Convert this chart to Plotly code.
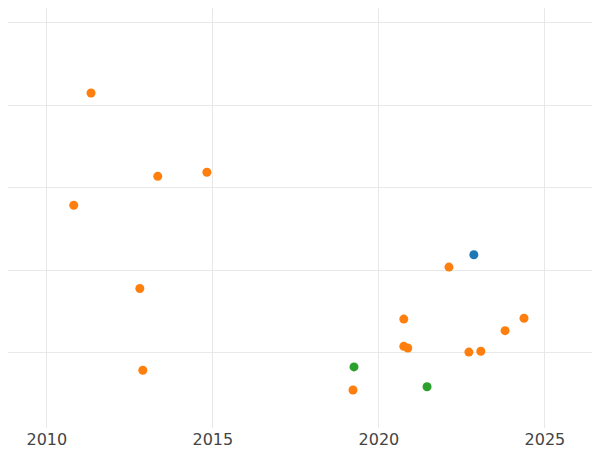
import plotly.graph_objects as go

orange_x = [2011.33, 2013.34, 2014.82, 2010.81, 2012.80, 2012.89, 2022.11, 2020.75, 2020.75, 2020.87, 2019.22, 2022.71, 2023.07, 2023.80, 2024.37]
orange_y = [3.15, 2.14, 2.19, 1.79, 0.78, -0.21, 1.04, 0.41, 0.08, 0.06, -0.45, 0.01, 0.02, 0.27, 0.42]
blue_x = [2022.86]
blue_y = [1.19]
green_x = [2019.25, 2021.45]
green_y = [-0.17, -0.41]

fig = go.Figure()
for xs, ys, c in [(blue_x, blue_y, "#1f77b4"), (orange_x, orange_y, "#ff7f0e"), (green_x, green_y, "#2ca02c")]:
    fig.add_trace(go.Scatter(x=xs, y=ys, mode="markers", marker=dict(color=c, size=9), showlegend=False))

fig.update_layout(
    width=600, height=450, plot_bgcolor="white", paper_bgcolor="white",
    margin=dict(l=0, r=0, t=0, b=30, pad=0, autoexpand=False),
    font=dict(family="DejaVu Sans", size=16, color="#444"),
)
fig.update_xaxes(range=[2008.83, 2026.9], tickvals=[2010, 2015, 2020, 2025], showgrid=True,
                 gridcolor="#e8e8e8", zeroline=False, ticks="", automargin=False)
fig.update_yaxes(range=[-0.91, 4.18], tickvals=[0, 1, 2, 3, 4], showticklabels=False,
                 showgrid=True, gridcolor="#e8e8e8", zeroline=False, automargin=False)
fig.write_html("out.html")
